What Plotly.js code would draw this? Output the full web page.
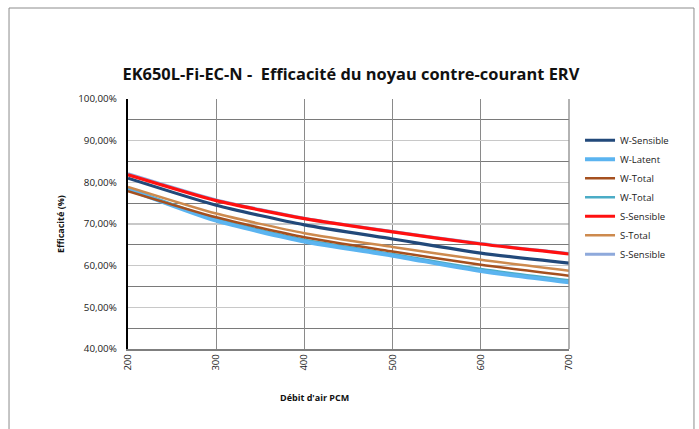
<!DOCTYPE html>
<html>
<head>
<meta charset="utf-8">
<script src="https://cdn.plot.ly/plotly-3.0.1.min.js"></script>
<style>html,body{margin:0;padding:0;background:#fff;}#chart{width:699px;height:429px;}</style>
</head>
<body>
<div id="chart"></div>
<script>
// Data
const airflow = [200, 300, 400, 500, 600, 700];
const wSensible = [81.0, 74.5, 69.8, 66.4, 63.0, 60.6];
const wLatent = [78.4, 70.8, 65.8, 62.4, 58.7, 56.0];
const wTotal1 = [77.9, 71.6, 66.8, 63.4, 60.2, 57.6];
const wTotal2 = [78.6, 71.2, 66.2, 62.8, 59.2, 56.5];
const sSensible1 = [81.8, 75.6, 71.3, 68.1, 65.2, 62.8];
const sTotal = [78.9, 72.5, 67.8, 64.5, 61.4, 58.8];
const sSensible2 = [82.1, 75.8, 71.4, 68.2, 65.3, 62.9];
const yTicks = [40, 50, 60, 70, 80, 90, 100];
const xTicks = [200, 300, 400, 500, 600, 700];

const FONT = 'Open Sans, Noto Sans, sans-serif';

function tr(name, y, color, width, rank) {
  return {x: airflow, y: y, name: name, type: 'scatter', mode: 'lines',
    line: {color: color, width: width, shape: 'spline', smoothing: 0.6},
    legendrank: rank, hoverinfo: 'skip'};
}
// drawing order: hidden/overlapped series first
const data = [
  tr('W-Total', wTotal2, '#4BACC6', 2.5, 4),
  tr('S-Sensible', sSensible2, '#8EA9DB', 3, 7),
  tr('W-Latent', wLatent, '#5BB4F0', 4, 2),
  tr('W-Total', wTotal1, '#A5501F', 2.5, 3),
  tr('S-Total', sTotal, '#CD8A4E', 2.5, 6),
  tr('W-Sensible', wSensible, '#22497A', 3.2, 1),
  tr('S-Sensible', sSensible1, '#FF1010', 3.2, 5)
];

const layout = {
  width: 699, height: 429,
  margin: {l: 128, r: 130, t: 99, b: 80},
  paper_bgcolor: '#ffffff', plot_bgcolor: '#ffffff',
  separators: ', ',
  font: {family: FONT, size: 9.5, color: '#222'},
  title: {text: '<b>EK650L-Fi-EC-N -  Efficacité du noyau contre-courant ERV</b>',
    font: {family: FONT, size: 16.4, color: '#111'},
    x: 0.502, xref: 'container', xanchor: 'center',
    y: 0.826, yref: 'container', yanchor: 'middle'},
  xaxis: {range: [200, 700], tickvals: xTicks, ticktext: xTicks.map(String),
    tickangle: -90, ticks: '', showline: true, linecolor: '#7f7f7f', linewidth: 1.5,
    showgrid: true, gridcolor: '#8a8a8a', gridwidth: 1.3, zeroline: false,
    mirror: false, tickfont: {size: 9.5, family: FONT, color: '#222'}},
  yaxis: {range: [40, 100], tickvals: yTicks, ticktext: yTicks.map(v => v.toFixed(2).replace('.', ',') + '%'),
    ticks: '', showline: true, linecolor: '#000', linewidth: 2.2, ticklabelstandoff: 7,
    showgrid: true, gridcolor: '#c8c8c8', gridwidth: 1.3, zeroline: false,
    minor: {tick0: 45, dtick: 10, showgrid: true, gridcolor: '#7a7a7a', gridwidth: 1.2},
    tickfont: {size: 9.8, family: FONT, color: '#222'}},
  legend: {x: 1.025, y: 0.893, xanchor: 'left', yanchor: 'top',
    font: {size: 9.5, family: FONT, color: '#222'}, bgcolor: 'rgba(0,0,0,0)',
    tracegroupgap: 0, itemwidth: 30},
  showlegend: true,
  annotations: [
    {text: '<b>Débit d\'air PCM</b>', xref: 'paper', yref: 'paper', x: 0.424, y: -0.192,
      xanchor: 'center', yanchor: 'middle', showarrow: false, font: {size: 9, family: FONT, color: '#111'}},
    {text: '<b>Efficacité (%)</b>', xref: 'paper', yref: 'paper', x: -0.154, y: 0.5,
      xanchor: 'center', yanchor: 'middle', textangle: -90, showarrow: false, font: {size: 9, family: FONT, color: '#111'}}
  ],
  shapes: [
    {type: 'rect', xref: 'paper', yref: 'paper', x0: -0.2698, x1: 1.2834, y0: -0.5, y1: 1.364,
      line: {color: '#8c8c8c', width: 1}, fillcolor: 'rgba(0,0,0,0)', layer: 'below'},
    {type: 'line', xref: 'paper', yref: 'paper', x0: 1, x1: 1, y0: 0, y1: 1,
      line: {color: '#8a8a8a', width: 1.3}}
  ]
};

Plotly.newPlot('chart', data, layout, {staticPlot: true, displayModeBar: false});
</script>
</body>
</html>
